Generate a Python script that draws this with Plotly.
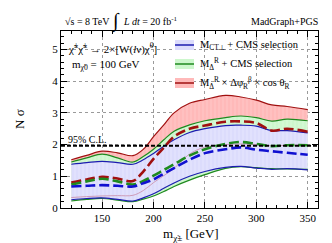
import plotly.graph_objects as go

# ---- data ----
mass = [120, 135, 150, 165, 180, 190, 200, 210, 220, 235, 250, 270, 285, 300, 315, 330, 350]

red_up   = [1.52, 1.66, 1.79, 1.74, 1.65, 1.85, 2.25, 2.62, 3.00, 3.30, 3.42, 3.55, 3.50, 3.40, 3.25, 3.20, 3.10]
red_lo   = [0.33, 0.36, 0.38, 0.39, 0.40, 0.55, 0.80, 1.02, 1.25, 1.70, 1.92, 2.00, 2.02, 2.00, 1.96, 1.98, 1.98]
red_mid  = [0.80, 0.90, 0.98, 0.93, 0.85, 1.15, 1.55, 1.90, 2.25, 2.50, 2.60, 2.72, 2.73, 2.68, 2.44, 2.50, 2.40]

grn_up   = [1.45, 1.58, 1.70, 1.58, 1.45, 1.62, 1.85, 2.15, 2.42, 2.62, 2.75, 2.85, 2.90, 2.85, 2.74, 2.80, 2.75]
grn_lo   = [0.22, 0.27, 0.30, 0.25, 0.20, 0.28, 0.38, 0.52, 0.68, 0.88, 1.05, 1.25, 1.30, 1.27, 1.24, 1.23, 1.22]
grn_mid  = [0.74, 0.84, 0.92, 0.84, 0.74, 0.85, 1.02, 1.20, 1.38, 1.65, 1.85, 2.02, 2.08, 2.02, 1.95, 1.98, 1.98]

blu_up   = [1.38, 1.43, 1.47, 1.43, 1.38, 1.52, 1.72, 1.95, 2.15, 2.38, 2.50, 2.60, 2.61, 2.58, 2.44, 2.44, 2.37]
blu_lo   = [0.26, 0.30, 0.32, 0.27, 0.22, 0.32, 0.45, 0.62, 0.79, 1.00, 1.15, 1.28, 1.31, 1.26, 1.22, 1.24, 1.20]
blu_mid  = [0.68, 0.70, 0.72, 0.70, 0.68, 0.78, 0.90, 1.08, 1.26, 1.52, 1.73, 1.85, 1.91, 1.84, 1.79, 1.74, 1.68]

CL95 = 1.96

x_ticks = [150, 200, 250, 300, 350]
y_ticks = [0, 1, 2, 3, 4, 5]

labels = ["M<sub>CT⊥</sub> + CMS selection",
          "M<sub>Δ</sub><sup>R</sup> + CMS selection",
          "M<sub>Δ</sub><sup>R</sup> × Δφ<sub>R</sub><sup>β</sup> × cos θ<sub>R</sub>"]

FONT = "Liberation Serif"

RED_FILL, RED_LINE = "#ffb9b9", "#a01010"
GRN_FILL, GRN_LINE = "#cdf7cd", "#1f8a1f"
BLU_FILL, BLU_LINE = "#dcdcfc", "#1c1cb0"
PINK = "#c98aa6"

fig = go.Figure()

def band(lo, up, fill, fg):
    fig.add_trace(go.Scatter(x=mass, y=lo, mode="lines", line=dict(width=0, shape="spline"),
                             showlegend=False, hoverinfo="skip"))
    fig.add_trace(go.Scatter(x=mass, y=up, mode="lines", line=dict(width=0, shape="spline"),
                             fill="tonexty", fillcolor=fill,
                             fillpattern=dict(shape="|", bgcolor=fill, fgcolor=fg, size=4, solidity=0.25),
                             showlegend=False, hoverinfo="skip"))

band(red_lo, red_up, RED_FILL, "#ffd2d2")
band(grn_lo, grn_up, GRN_FILL, "#e2fbe2")
band(blu_lo, blu_up, BLU_FILL, "#eeeefe")

def line(y, color, width, dash="solid"):
    fig.add_trace(go.Scatter(x=mass, y=y, mode="lines",
                             line=dict(color=color, width=width, dash=dash, shape="spline"),
                             showlegend=False, hoverinfo="skip"))

line(red_lo, PINK, 0.8)
line(red_up, RED_LINE, 1.2)
line(grn_lo, GRN_LINE, 1.2)
line(grn_up, GRN_LINE, 1.2)
line(blu_lo, BLU_LINE, 1.2)
line(blu_up, BLU_LINE, 1.2)
line(red_mid, RED_LINE, 2.6, "10px,4px")
line(grn_mid, GRN_LINE, 2.6, "10px,4px")
line(blu_mid, "#1010d0", 2.6, "10px,4px")

# 95% C.L. line
fig.add_shape(type="line", xref="paper", x0=0, x1=1, yref="y", y0=CL95, y1=CL95,
              line=dict(color="black", width=2, dash="4px,2px"))
fig.add_annotation(x=0.02, xref="paper", y=CL95, yref="y", yanchor="bottom", xanchor="left",
                   text="95% C.L.", showarrow=False, font=dict(family=FONT, size=10, color="black"),
                   yshift=-1)

# manual legend
PW, PH = 257.0, 177.0
def px2paper(px, py):
    return (px - 53) / PW, (200 - py) / PH

leg = [(37, BLU_FILL, BLU_LINE), (56, GRN_FILL, GRN_LINE), (75, RED_FILL, RED_LINE)]
for (py, fillc, linec), lab in zip(leg, labels):
    x0, y0 = px2paper(167, py + 5)
    x1, y1 = px2paper(186, py - 5)
    fig.add_shape(type="rect", xref="paper", yref="paper", x0=x0, x1=x1, y0=y0, y1=y1,
                  line=dict(width=0), fillcolor=fillc)
    xm, ym = px2paper(0, py)
    fig.add_shape(type="line", xref="paper", yref="paper", x0=x0, x1=x1, y0=ym, y1=ym,
                  line=dict(color=linec, width=1.5))
    tx, ty = px2paper(190, py)
    fig.add_annotation(x=tx, y=ty, xref="paper", yref="paper", xanchor="left", yanchor="middle",
                       text=lab, showarrow=False, font=dict(family=FONT, size=10.5, color="black"))

# texts
def note(px, py, text, size, anchor="left", angle=0):
    x, y = px2paper(px, py)
    fig.add_annotation(x=x, y=y, xref="paper", yref="paper", xanchor=anchor, yanchor="middle",
                       showarrow=False, text=text, textangle=angle,
                       font=dict(family=FONT, size=size, color="black"))

note(55, 13, "√s = 8 TeV", 10)
note(107, 13, "∫", 20, anchor="center")
note(113, 13, "<i>L dt</i> = 20 fb<sup>-1</sup>", 10)
note(241, 13, "MadGraph+PGS", 10)
note(58, 41, "χ̃<sup>±</sup>χ̃<sup>±</sup> → 2×[W(<i>l</i>ν)χ̃<sup>0</sup>]", 11)
note(62, 57, "m<sub>χ̃0</sub> = 100 GeV", 11)
note(153, 226, "m<sub>χ̃±</sub> [GeV]", 13)
note(11, 111, "N σ", 13, anchor="center", angle=-90)

axis_common = dict(showline=True, linecolor="black", linewidth=1, mirror="allticks",
                   ticks="inside", ticklen=6, tickcolor="black", tickwidth=1,
                   showgrid=True, gridcolor="#9a9a9a", griddash="dot", gridwidth=1,
                   zeroline=False, tickfont=dict(family=FONT, size=11, color="black"))

fig.update_xaxes(range=[110, 360], tickvals=x_ticks,
                 minor=dict(dtick=10, tick0=110, ticks="inside", ticklen=3, tickcolor="black", showgrid=False),
                 **axis_common)
fig.update_yaxes(range=[0, 5.58], tickvals=y_ticks,
                 minor=dict(dtick=0.2, tick0=0, ticks="inside", ticklen=3, tickcolor="black", showgrid=False),
                 **axis_common)

fig.update_layout(width=332, height=243, margin=dict(l=53, r=22, t=23, b=43),
                  plot_bgcolor="white", paper_bgcolor="white", showlegend=False)

fig.write_html("out.html")
